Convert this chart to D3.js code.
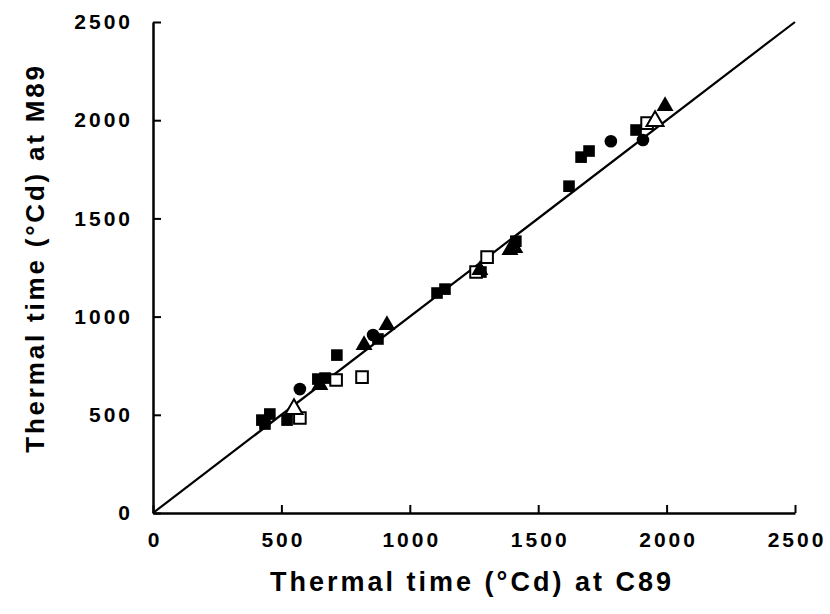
<meta charset="UTF-8">
<head>
  <script src="https://d3js.org/d3.v7.min.js"></script>
  <style>
    body { margin: 0; background: #fff; }
    text { font-family: "Liberation Sans", Arial, sans-serif; font-weight: bold; fill: #000; }
  </style>
</head>
<body>
<svg id="svg" width="830" height="614"></svg>
<script>
  // thermal time at C89 (x) vs M89 (y), one array per marker type
  const filledSquares = [
    [424, 473], [436, 453], [455, 504], [522, 473], [642, 682], [670, 687],
    [716, 804], [876, 886], [1106, 1120], [1137, 1140], [1277, 1227],
    [1413, 1384], [1620, 1664], [1667, 1812], [1698, 1843], [1881, 1950]
  ];
  const openSquares = [
    [572, 484], [713, 677], [814, 692], [1258, 1227], [1301, 1303], [1924, 1985]
  ];
  const filledCircles = [
    [572, 631], [857, 906], [1783, 1893], [1908, 1899]
  ];
  const filledTriangles = [
    [650, 651], [822, 855], [911, 957], [1273, 1237], [1390, 1339], [1409, 1349], [1994, 2072]
  ];
  const openTriangles = [
    [549, 529], [1955, 1995]
  ];
  const ticks = [0, 500, 1000, 1500, 2000, 2500];

  const svg = d3.select("#svg");
  const x = d3.scaleLinear().domain([0, 2500]).range([153, 795]);
  const y = d3.scaleLinear().domain([0, 2500]).range([513, 22]);

  // 1:1 line
  svg.append("line")
    .attr("x1", x(0)).attr("y1", y(0))
    .attr("x2", x(2500)).attr("y2", y(2500))
    .attr("stroke", "#000").attr("stroke-width", 2.2);

  const xAxis = svg.append("g").attr("transform", `translate(0,${y(0)})`)
    .call(d3.axisBottom(x).tickValues(ticks).tickFormat(d3.format("d"))
      .tickSize(-8).tickPadding(19).tickSizeOuter(0));
  const yAxis = svg.append("g").attr("transform", `translate(${x(0)},0)`)
    .call(d3.axisLeft(y).tickValues(ticks).tickFormat(d3.format("d"))
      .tickSize(-8).tickPadding(23).tickSizeOuter(0));
  [xAxis, yAxis].forEach(g => {
    g.select(".domain").attr("stroke-width", 2.5);
    g.selectAll(".tick line").attr("stroke-width", 2);
    g.selectAll(".tick text").style("font-size", "21px").style("letter-spacing", "3px");
  });
  // letter-spacing adds trailing space; nudge labels back
  xAxis.selectAll(".tick text").attr("dx", "1.5px");
  yAxis.selectAll(".tick text").attr("dx", "3px");

  const sq = d3.symbol().type(d3.symbolSquare).size(135);
  const tri = d3.symbol().type(d3.symbolTriangle).size(125);
  const circ = d3.symbol().type(d3.symbolCircle).size(125);

  function plot(data, gen, fill) {
    svg.append("g").selectAll("path").data(data).join("path")
      .attr("d", gen)
      .attr("transform", d => `translate(${x(d[0])},${y(d[1])})`)
      .attr("fill", fill ? "#000" : "#fff")
      .attr("stroke", "#000").attr("stroke-width", fill ? 0 : 2);
  }
  plot(filledSquares, sq, true);
  plot(openSquares, sq, false);
  plot(filledCircles, circ, true);
  plot(filledTriangles, tri, true);
  plot(openTriangles, tri, false);

  svg.append("text")
    .attr("x", 472).attr("y", 591)
    .attr("text-anchor", "middle")
    .style("font-size", "27px").style("letter-spacing", "3px")
    .text("Thermal time (°Cd) at C89");
  svg.append("text")
    .attr("transform", "translate(44,258) rotate(-90)")
    .attr("text-anchor", "middle")
    .style("font-size", "26px").style("letter-spacing", "2.8px")
    .text("Thermal time (°Cd) at M89");
</script>
</body>
